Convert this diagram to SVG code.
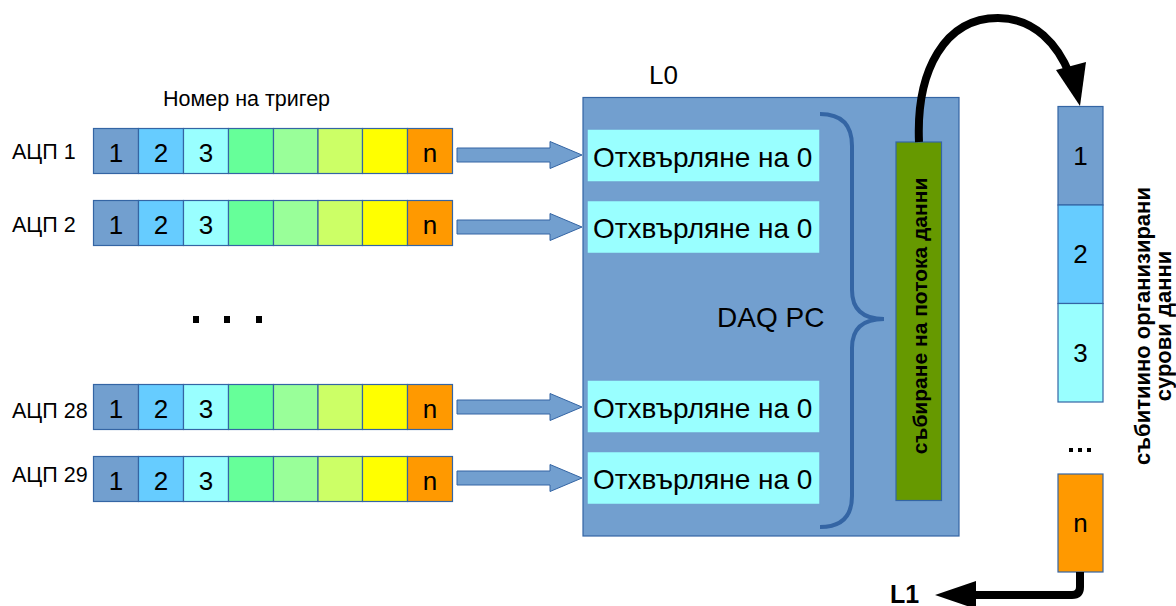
<svg xmlns="http://www.w3.org/2000/svg" width="1176" height="606" viewBox="0 0 1176 606">
  <style>
    text { font-family: "Liberation Sans", Arial, sans-serif; fill: #000; }
    .cell { stroke: #3465a4; stroke-width: 1.2; }
    .c1 { fill: #729fcf; } .c2 { fill: #66ccff; } .c3 { fill: #99ffff; }
    .c4 { fill: #66ff99; } .c5 { fill: #99ff99; } .c6 { fill: #ccff66; }
    .c7 { fill: #ffff00; } .c8 { fill: #ff9900; }
    .num { font-size: 26px; text-anchor: middle; }
    .lbl { font-size: 21.5px; }
    .drop { fill: #99ffff; stroke: #729fcf; stroke-width: 1.5; }
    .droptxt { font-size: 28px; }
    .blk { fill: #729fcf; stroke: #3465a4; stroke-width: 1; }
    .bold { font-weight: bold; }
  </style>
  <defs>
    <g id="strip">
      <rect class="cell c1" x="0" y="0" width="45" height="45"/>
      <rect class="cell c2" x="45" y="0" width="45" height="45"/>
      <rect class="cell c3" x="90" y="0" width="45" height="45"/>
      <rect class="cell c4" x="135" y="0" width="45" height="45"/>
      <rect class="cell c5" x="180" y="0" width="44.5" height="45"/>
      <rect class="cell c6" x="224.5" y="0" width="44.5" height="45"/>
      <rect class="cell c7" x="269" y="0" width="45" height="45"/>
      <rect class="cell c8" x="314" y="0" width="45" height="45"/>
      <text class="num" x="22.5" y="33">1</text>
      <text class="num" x="67.5" y="33">2</text>
      <text class="num" x="112.5" y="33">3</text>
      <text class="num" x="336.5" y="33">n</text>
    </g>
    <polygon id="blockArrow" points="0,-7 93,-7 93,-13.5 125,0 93,13.5 93,7 0,7"/>
  </defs>

  <!-- header labels -->
  <text x="163" y="106" font-size="21.5">Номер на тригер</text>
  <text x="649" y="84" font-size="26">L0</text>

  <!-- ADC rows -->
  <g id="adc1">
    <text class="lbl" x="12" y="159">АЦП 1</text>
    <use href="#strip" x="93.5" y="128.5"/>
  </g>
  <g id="adc2">
    <text class="lbl" x="12" y="232">АЦП 2</text>
    <use href="#strip" x="93.5" y="200.5"/>
  </g>
  <g id="ellipsis-left">
    <rect x="193" y="316" width="6" height="7"/>
    <rect x="224" y="316" width="6" height="7"/>
    <rect x="256" y="316" width="6" height="7"/>
  </g>
  <g id="adc28">
    <text class="lbl" x="12" y="418">АЦП 28</text>
    <use href="#strip" x="93.5" y="384.5"/>
  </g>
  <g id="adc29">
    <text class="lbl" x="12" y="482">АЦП 29</text>
    <use href="#strip" x="93.5" y="456.5"/>
  </g>

  <!-- DAQ PC -->
  <g id="daq">
    <rect x="583" y="97.5" width="376" height="438.5" fill="#729fcf" stroke="#3465a4" stroke-width="1.2"/>
    <text x="717" y="327" font-size="28">DAQ PC</text>
    <path d="M 820 114 Q 852 114 852 146 L 852 290 Q 852 319 884 319 Q 852 319 852 348 L 852 496 Q 852 527 820 527" fill="none" stroke="#3465a4" stroke-width="4"/>
  </g>
  <g id="drop1">
    <rect class="drop" x="587" y="129" width="233" height="53"/>
    <text class="droptxt" x="593" y="166.5">Отхвърляне на 0</text>
  </g>
  <g id="drop2">
    <rect class="drop" x="587" y="200.5" width="233" height="53"/>
    <text class="droptxt" x="593" y="238">Отхвърляне на 0</text>
  </g>
  <g id="drop28">
    <rect class="drop" x="587" y="380" width="233" height="53"/>
    <text class="droptxt" x="593" y="417.5">Отхвърляне на 0</text>
  </g>
  <g id="drop29">
    <rect class="drop" x="587" y="451.5" width="233" height="53"/>
    <text class="droptxt" x="593" y="489">Отхвърляне на 0</text>
  </g>
  <g id="collect">
    <rect x="896" y="142" width="45.5" height="358.5" fill="#669900" stroke="#3465a4" stroke-width="1.2"/>
    <text class="bold" font-size="21" text-anchor="middle" transform="translate(927 316) rotate(-90)">събиране на потока данни</text>
  </g>

  <!-- event-built output -->
  <g id="events">
    <rect class="cell c1" x="1058" y="106.5" width="45" height="98.5"/>
    <rect class="cell c2" x="1058" y="205" width="45" height="98.5"/>
    <rect class="cell c3" x="1058" y="303.5" width="45" height="98.5"/>
    <rect class="cell c8" x="1058" y="474" width="45" height="98"/>
    <text class="num" x="1080.5" y="165">1</text>
    <text class="num" x="1080.5" y="263">2</text>
    <text class="num" x="1080.5" y="362">3</text>
    <text class="num" x="1080.5" y="532">n</text>
    <rect x="1069" y="448" width="4" height="4"/>
    <rect x="1078" y="448" width="4" height="4"/>
    <rect x="1087" y="448" width="4" height="4"/>
  </g>
  <g id="events-label" class="bold" font-size="22" text-anchor="middle">
    <text transform="translate(1150 326) rotate(-90)">събитиино организирани</text>
    <text transform="translate(1171 326) rotate(-90)">сурови данни</text>
  </g>
  <text class="bold" x="890" y="603" font-size="25">L1</text>

  <!-- connectors -->
  <g id="connectors">
    <use href="#blockArrow" class="blk" x="457" y="155"/>
    <use href="#blockArrow" class="blk" x="457" y="227"/>
    <use href="#blockArrow" class="blk" x="457" y="407"/>
    <use href="#blockArrow" class="blk" x="457" y="478"/>
    <path d="M 919 142 C 916 70 945 18 998 18 C 1035 18 1058 45 1070 75" fill="none" stroke="#000" stroke-width="8"/>
    <polygon points="1080,106 1056,70 1086,62" fill="#000"/>
    <path d="M 1080 572 L 1080 587 Q 1080 595 1072 595 L 972 595" fill="none" stroke="#000" stroke-width="8"/>
    <polygon points="935,595 976,581 976,609" fill="#000"/>
  </g>
</svg>
